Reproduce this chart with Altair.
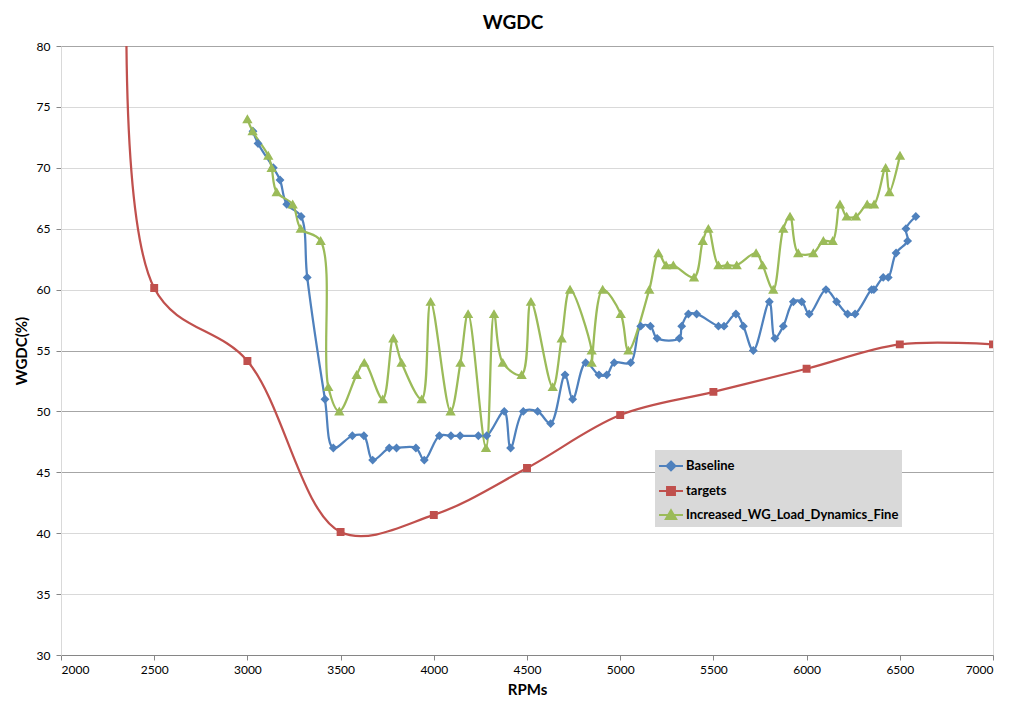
import altair as alt
import pandas as pd

# ---------------- data ----------------
series_names = ["Baseline", "targets", "Increased_WG_Load_Dynamics_Fine"]
series_colors = ["#4F81BD", "#C0504D", "#9BBB59"]

base_rpm = [3030, 3057, 3139, 3175, 3211, 3288, 3321, 3416, 3461, 3563, 3625, 3672,
            3761, 3800, 3904, 3949, 4030, 4092, 4141, 4239, 4284, 4378, 4412, 4480,
            4557, 4627, 4704, 4745, 4815, 4886, 4928, 4968, 5056, 5110, 5162, 5198,
            5317, 5330, 5366, 5410, 5527, 5557, 5621, 5661, 5714, 5800, 5830, 5875,
            5929, 5974, 6014, 6104, 6161, 6220, 6260, 6349, 6361, 6411, 6438, 6480,
            6542, 6533, 6586]
base_val = [73, 72, 70, 69, 67, 66, 61, 51, 47, 48, 48, 46,
            47, 47, 47, 46, 48, 48, 48, 48, 48, 50, 47, 50,
            50, 49, 53, 51, 54, 53, 53, 54, 54, 57, 57, 56,
            56, 57, 58, 58, 57, 57, 58, 57, 55, 59, 56, 57,
            59, 59, 58, 60, 59, 58, 58, 60, 60, 61, 61, 63,
            64, 65, 66]

tgt_rpm = [2380, 2500, 3000, 3500, 4000, 4500, 5000, 5500, 6000, 6500, 7000]
tgt_val = [100, 60.13, 54.14, 40.1, 41.5, 45.35, 49.7, 51.6, 53.5, 55.5, 55.5]

green_rpm = [3000, 3028, 3112, 3130, 3157, 3243, 3286, 3393, 3434, 3493, 3586, 3627,
             3726, 3783, 3827, 3935, 3983, 4090, 4143, 4184, 4280, 4323, 4370, 4471,
             4521, 4638, 4686, 4731, 4847, 4847, 4906, 5003, 5044, 5156, 5205, 5246,
             5285, 5396, 5443, 5473, 5527, 5575, 5625, 5729, 5764, 5821, 5875, 5911,
             5955, 6036, 6090, 6140, 6179, 6215, 6265, 6325, 6362, 6424, 6444, 6501]
green_val = [74, 73, 71, 70, 68, 67, 65, 64, 52, 50, 53, 54,
             51, 56, 54, 51, 59, 50, 54, 58, 47, 58, 54, 53,
             59, 52, 56, 60, 55, 54, 60, 58, 55, 60, 63, 62,
             62, 61, 64, 65, 62, 62, 62, 63, 62, 60, 65, 66,
             63, 63, 64, 64, 67, 66, 66, 67, 67, 70, 68, 71]

x_ticks = [2000, 2500, 3000, 3500, 4000, 4500, 5000, 5500, 6000, 6500, 7000]
y_ticks = [30, 35, 40, 45, 50, 55, 60, 65, 70, 75, 80]

rows = []
for name, xs, ys in [(series_names[0], base_rpm, base_val),
                     (series_names[1], tgt_rpm, tgt_val),
                     (series_names[2], green_rpm, green_val)]:
    for i, (xv, yv) in enumerate(zip(xs, ys)):
        rows.append({"series": name, "rpm": xv, "wgdc": yv, "idx": i})
df = pd.DataFrame(rows)

# ---------------- chart ----------------
FONT = "Lato"

diamond = "M-1,0H1M0,-0.37L0.37,0L0,0.37L-0.37,0Z"
square = "M-1,0H1M-0.33,-0.33H0.33V0.33H-0.33Z"
triangle = "M-1,0H1M0,-0.4L0.43,0.34H-0.43Z"

xscale = alt.Scale(domain=[2000, 7000], nice=False, zero=False)
yscale = alt.Scale(domain=[30, 80], nice=False, zero=False)
cscale = alt.Scale(domain=series_names, range=series_colors)
sscale = alt.Scale(domain=series_names, range=[diamond, square, triangle])

xaxis = alt.Axis(values=x_ticks, format="d", grid=False, domainColor="#868686", tickColor="#868686",
                 tickSize=5, labelPadding=4, labelFontSize=12, labelColor="#000000",
                 labelFont=FONT, title="RPMs", titleFont=FONT, titleFontSize=15,
                 titleFontWeight="bold", titleColor="#000000", titlePadding=7)
yaxis = alt.Axis(values=y_ticks, format="d", grid=True,
                 gridColor=alt.condition("datum.value == 80 || datum.value == 45 || datum.value == 50 || datum.value == 55",
                                         alt.value("#a6a6a6"), alt.value("#d9d9d9")),
                 domainColor="#d9d9d9", tickColor="#868686", tickSize=5, labelPadding=6,
                 labelFontSize=12, labelColor="#000000", labelFont=FONT,
                 title="WGDC(%)", titleFont=FONT, titleFontSize=15, titleFontWeight="bold",
                 titleColor="#000000", titlePadding=7)

legend = alt.Legend(title=None, orient="none", legendX=594, legendY=404,
                    fillColor="#d9d9d9", padding=3, labelFont=FONT, labelFontSize=13,
                    labelFontWeight="bold", labelColor="#000000", labelLimit=400,
                    symbolSize=576, symbolStrokeWidth=2, rowPadding=3, labelOffset=2)

lines = alt.Chart(df).mark_line(interpolate="catmull-rom", strokeWidth=2.25, clip=True).encode(
    x=alt.X("rpm:Q", scale=xscale, axis=xaxis),
    y=alt.Y("wgdc:Q", scale=yscale, axis=yaxis),
    color=alt.Color("series:N", scale=cscale, legend=legend),
    order=alt.Order("idx:Q"),
)

points = alt.Chart(df).mark_point(filled=True, opacity=1, size=576, strokeWidth=0, clip=True).encode(
    x=alt.X("rpm:Q", scale=xscale, axis=xaxis),
    y=alt.Y("wgdc:Q", scale=yscale, axis=yaxis),
    color=alt.Color("series:N", scale=cscale, legend=legend),
    stroke=alt.Stroke("series:N", scale=cscale, legend=legend),
    shape=alt.Shape("series:N", scale=sscale, legend=legend),
)

chart = alt.layer(lines, points).properties(
    width=932, height=609,
    autosize=alt.AutoSizeParams(type="none"),
    padding={"left": 53, "top": 38, "right": 20, "bottom": 45},
    title=alt.TitleParams("WGDC", font=FONT, fontSize=19, fontWeight="bold",
                          color="#000000", offset=7, dx=-14),
).configure_view(stroke=None).configure(background="white")

chart.save("out.html", embed_options={"renderer": "svg", "actions": False})
